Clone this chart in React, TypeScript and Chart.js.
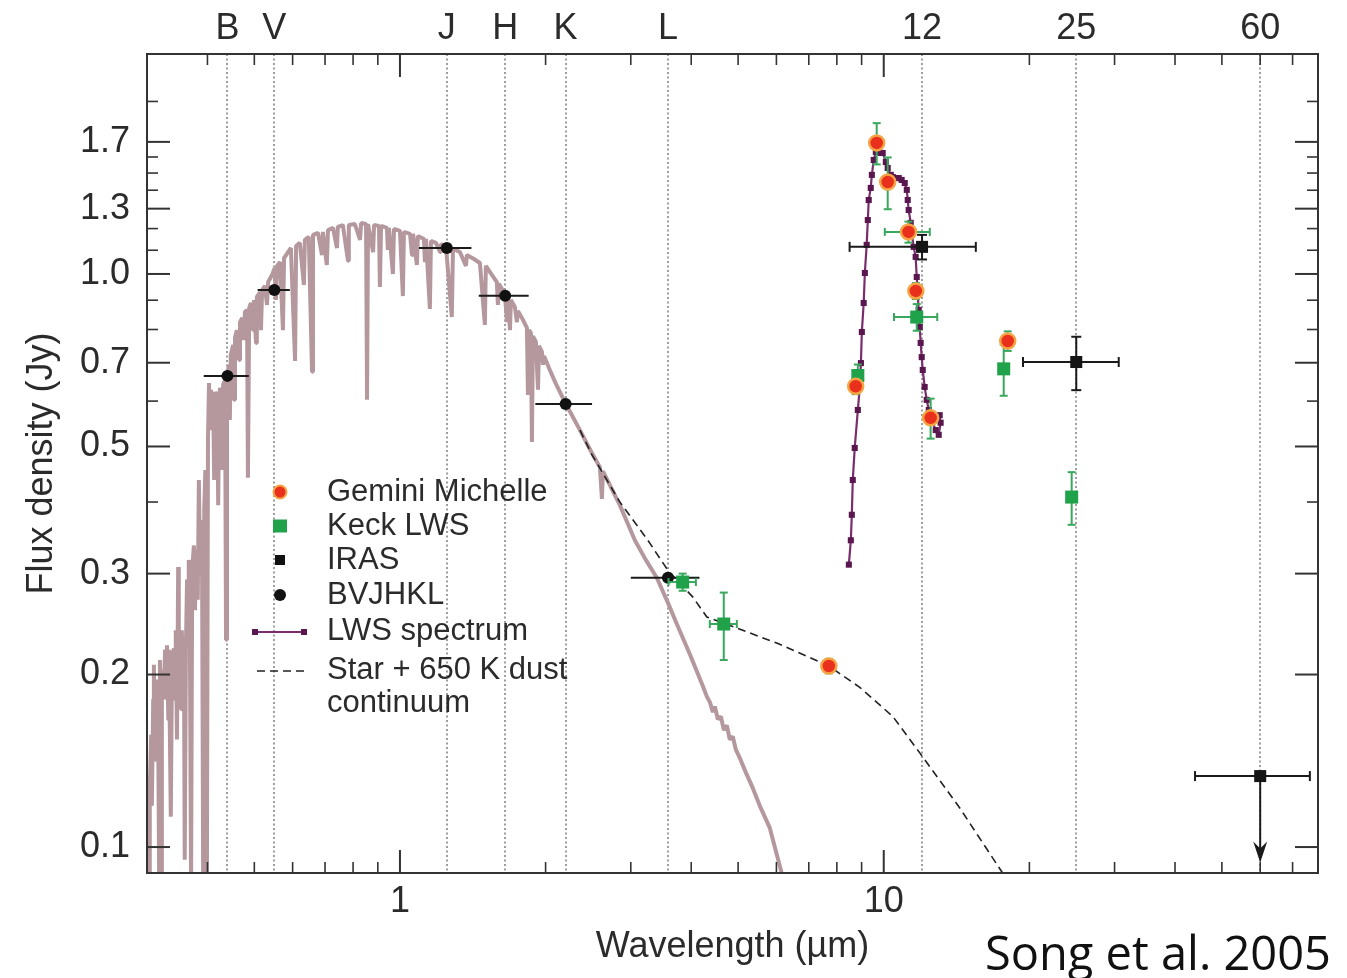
import React, { useEffect, useRef } from "react";
import { Chart, registerables } from "chart.js";

Chart.register(...registerables);

const FONT = "'Liberation Sans', Arial, Helvetica, sans-serif";
const INK = "#2b2b2b";

// Stellar photosphere model: wavelength (µm) and flux density (Jy)
const photWl = [
  0.300, 0.302, 0.303, 0.304, 0.306, 0.307, 0.309, 0.310, 0.312, 0.313,
  0.315, 0.316, 0.318, 0.319, 0.321, 0.322, 0.325, 0.327, 0.328, 0.330,
  0.332, 0.333, 0.336, 0.338, 0.341, 0.343, 0.344, 0.346, 0.348, 0.349,
  0.351, 0.353, 0.354, 0.358, 0.359, 0.361, 0.363, 0.365, 0.366, 0.368,
  0.370, 0.372, 0.375, 0.377, 0.379, 0.382, 0.384, 0.386, 0.388, 0.390,
  0.392, 0.394, 0.396, 0.397, 0.399, 0.401, 0.403, 0.405, 0.407, 0.409,
  0.411, 0.413, 0.415, 0.419, 0.421, 0.423, 0.425, 0.429, 0.431, 0.435,
  0.437, 0.439, 0.443, 0.445, 0.447, 0.452, 0.454, 0.456, 0.460, 0.465,
  0.467, 0.472, 0.476, 0.478, 0.483, 0.485, 0.488, 0.492, 0.497, 0.499,
  0.504, 0.506, 0.514, 0.516, 0.519, 0.526, 0.531, 0.534, 0.544, 0.551,
  0.554, 0.557, 0.565, 0.573, 0.576, 0.587, 0.595, 0.607, 0.610, 0.621,
  0.633, 0.636, 0.648, 0.658, 0.661, 0.677, 0.690, 0.693, 0.706, 0.710,
  0.727, 0.741, 0.744, 0.762, 0.781, 0.784, 0.807, 0.827, 0.831, 0.851,
  0.855, 0.859, 0.880, 0.884, 0.905, 0.909, 0.914, 0.940, 0.944, 0.949,
  0.967, 0.972, 1.000, 1.014, 1.019, 1.049, 1.059, 1.064, 1.084, 1.089,
  1.121, 1.126, 1.132, 1.153, 1.159, 1.187, 1.210, 1.215, 1.245, 1.280,
  1.287, 1.330, 1.369, 1.375, 1.422, 1.463, 1.498, 1.505, 1.549, 1.586,
  1.594, 1.601, 1.648, 1.664, 1.672, 1.688, 1.696, 1.728, 1.745, 1.753,
  1.787, 1.830, 1.839, 1.848, 1.865, 1.874, 1.883, 1.910, 1.929, 1.938,
  1.966, 1.975, 1.985, 2.041, 2.101, 2.203, 2.355, 2.493, 2.590, 2.615,
  2.627, 2.848, 3.059, 3.222, 3.396, 3.579, 3.735, 3.974, 4.227, 4.309,
  4.371, 4.434, 4.476, 4.540, 4.606, 4.672, 4.739, 4.806, 4.875, 4.945,
  5.041, 5.186, 5.335, 5.544, 5.814, 6.153, 6.453,
];
const photFlux = [
  0.088, 0.121, 0.084, 0.126, 0.157, 0.118, 0.181, 0.208, 0.142, 0.196,
  0.167, 0.188, 0.084, 0.212, 0.084, 0.204, 0.188, 0.221, 0.181, 0.225,
  0.167, 0.221, 0.113, 0.216, 0.222, 0.181, 0.239, 0.154, 0.308, 0.188,
  0.230, 0.174, 0.239, 0.181, 0.095, 0.221, 0.293, 0.249, 0.317, 0.230,
  0.084, 0.304, 0.336, 0.259, 0.330, 0.270, 0.437, 0.317, 0.372, 0.293,
  0.084, 0.388, 0.455, 0.317, 0.088, 0.513, 0.645, 0.556, 0.628, 0.534,
  0.615, 0.437, 0.623, 0.603, 0.395, 0.615, 0.633, 0.455, 0.641, 0.653,
  0.230, 0.659, 0.694, 0.556, 0.722, 0.752, 0.603, 0.773, 0.798, 0.708,
  0.824, 0.838, 0.767, 0.858, 0.865, 0.441, 0.873, 0.890, 0.798, 0.901,
  0.758, 0.912, 0.930, 0.798, 0.938, 0.953, 0.883, 0.968, 0.996, 1.024,
  0.901, 1.033, 1.049, 0.798, 1.066, 1.092, 1.110, 0.705, 1.119, 1.133,
  0.957, 1.147, 1.161, 0.675, 1.170, 1.179, 1.079, 1.184, 1.037, 1.193,
  1.203, 1.110, 1.208, 1.217, 1.054, 1.217, 1.222, 1.147, 1.227, 1.222,
  0.603, 1.222, 1.092, 1.217, 1.213, 0.949, 1.213, 1.203, 1.101, 1.203,
  1.000, 1.198, 1.189, 0.915, 1.184, 1.175, 1.079, 1.175, 1.037, 1.165,
  1.151, 1.049, 1.151, 0.869, 1.142, 1.133, 1.092, 1.128, 1.115, 0.841,
  1.106, 1.092, 1.033, 1.079, 1.062, 1.045, 0.815, 1.033, 0.996, 0.968,
  0.883, 0.961, 0.923, 0.824, 0.915, 0.798, 0.901, 0.876, 0.824, 0.862,
  0.838, 0.805, 0.615, 0.798, 0.789, 0.509, 0.779, 0.761, 0.628, 0.749,
  0.731, 0.694, 0.719, 0.680, 0.643, 0.593, 0.534, 0.487, 0.460, 0.405,
  0.453, 0.395, 0.343, 0.317, 0.295, 0.267, 0.245, 0.217, 0.191, 0.183,
  0.179, 0.172, 0.176, 0.167, 0.169, 0.160, 0.163, 0.154, 0.156, 0.148,
  0.143, 0.135, 0.128, 0.118, 0.108, 0.090, 0.081,
];

// Star + 650 K dust continuum
const dustWl = [2.355, 2.493, 2.848, 3.254, 3.579, 4.031, 4.309, 4.969, 6.009, 7.696, 8.921, 10.44, 11.87, 14.36, 17.62, 18.2];
const dustFlux = [0.534, 0.484, 0.4, 0.343, 0.304, 0.273, 0.252, 0.241, 0.227, 0.207, 0.19, 0.169, 0.146, 0.117, 0.09, 0.086];

// Keck LWS low-resolution spectrum
const lwsWl = [
  8.47, 8.55, 8.59, 8.63, 8.71, 8.84, 8.92, 8.97, 9.01, 9.09,
  9.14, 9.22, 9.27, 9.31, 9.40, 9.45, 9.535, 9.63, 9.72, 9.765,
  9.86, 9.95, 10.10, 10.19, 10.34, 10.44, 10.59, 10.74, 10.89, 11.05,
  11.16, 11.21, 11.26, 11.37, 11.42, 11.53, 11.64, 11.70, 11.75, 11.81,
  11.87, 11.92, 11.98, 12.04, 12.15, 12.27, 12.39, 12.56, 12.81, 12.99,
  13.11, 13.05,
];
const lwsFlux = [
  0.311, 0.343, 0.380, 0.437, 0.497, 0.579, 0.632, 0.699, 0.792, 0.890,
  1.004, 1.124, 1.242, 1.346, 1.413, 1.489, 1.581, 1.633, 1.666, 1.633,
  1.626, 1.626, 1.568, 1.531, 1.489, 1.476, 1.470, 1.470, 1.459, 1.441,
  1.402, 1.346, 1.293, 1.228, 1.179, 1.115, 1.071, 0.988, 0.927, 0.865,
  0.808, 0.758, 0.716, 0.680, 0.635, 0.603, 0.579, 0.556, 0.534, 0.524,
  0.550, 0.567,
];

// Gemini Michelle photometry
const gemWl = [7.70, 8.75, 9.67, 10.19, 11.25, 11.65, 12.50, 18.04];
const gemFlux = [0.207, 0.637, 1.693, 1.447, 1.184, 0.934, 0.561, 0.764];
const gemWlErr = [0.2, 0.15, 0.2, 0.25, 1.2, 0.25, 0.25, 0.5];
const gemFluxErr = [0.006, 0.02, 0.14, 0.15, 0.05, 0.03, 0.045, 0.03];

// Keck LWS photometry
const keckWl = [3.84, 4.67, 8.84, 11.70, 17.70, 24.46];
const keckFlux = [0.290, 0.245, 0.665, 0.841, 0.683, 0.408];
const keckWlErr = [0.25, 0.3, 0.2, 1.2, 0, 0];
const keckFluxErr = [0.01, 0.033, 0.03, 0.045, 0.07, 0.043];

// IRAS fluxes (60 µm is an upper limit)
const irasWl = [12, 25, 60];
const irasFlux = [1.115, 0.702, 0.133];
const irasWlErr = [3.5, 5.6, 16];
const irasFluxErr = [0.055, 0.075, 0];
const irasUpper = [false, false, true];
const irasLimitTip = 0.094;

// Optical / near-IR photometry
const bandWl = [0.44, 0.55, 1.25, 1.65, 2.2, 3.58];
const bandFlux = [0.664, 0.938, 1.110, 0.916, 0.593, 0.295];
const bandWlErr = [0.047, 0.042, 0.155, 0.195, 0.295, 0.58];

// Axis ticks
const topTickWl = [0.44, 0.55, 1.25, 1.65, 2.2, 3.58, 12, 25, 60];
const topTickText = ["B", "V", "J", "H", "K", "L", "12", "25", "60"];
const xTickVals = [1, 10];
const xTickText = ["1", "10"];
const xMinorVals = [0.4, 0.5, 0.6, 0.7, 0.8, 0.9, 2, 3, 4, 5, 6, 7, 8, 9, 20, 30, 40, 50, 60, 70];
const yTickVals = [0.1, 0.2, 0.3, 0.5, 0.7, 1.0, 1.3, 1.7];
const yTickText = ["0.1", "0.2", "0.3", "0.5", "0.7", "1.0", "1.3", "1.7"];
const yMinorVals = [0.4, 0.6, 0.8, 0.9, 1.1, 1.2, 1.4, 1.5, 1.6, 2.0];

const pts = (xs: number[], ys: number[]) => xs.map((v, i) => ({ x: v, y: ys[i] }));

const RED = "#e8301c";
const ORANGE = "#f6a443";
const GREEN = "#1fa24a";
const ERR_GREEN = "#3aa75e";
const PURPLE = "#7a2d6d";
const PURPLE_DOT = "#5a174f";
const MAUVE = "#b4989d";

function line(ctx: CanvasRenderingContext2D, x1: number, y1: number, x2: number, y2: number) {
  ctx.beginPath();
  ctx.moveTo(x1, y1);
  ctx.lineTo(x2, y2);
  ctx.stroke();
}

const errorBarPlugin = {
  id: "errorBars",
  beforeDatasetDraw(chart: any, args: any) {
    const ds = chart.data.datasets[args.index];
    const e = ds.errorBars;
    if (!e) return;
    const { ctx } = chart;
    const xs = chart.scales.x;
    const ys = chart.scales.y;
    ctx.save();
    ctx.strokeStyle = e.color;
    ctx.fillStyle = e.color;
    ctx.lineWidth = e.width;
    ctx.setLineDash([]);
    ds.data.forEach((p: any, i: number) => {
      const px = xs.getPixelForValue(p.x);
      const py = ys.getPixelForValue(p.y);
      const dx = e.xErr ? e.xErr[i] : 0;
      const dy = e.yErr ? e.yErr[i] : 0;
      if (dx) {
        const l = xs.getPixelForValue(p.x - dx);
        const r = xs.getPixelForValue(p.x + dx);
        line(ctx, l, py, r, py);
        if (e.cap) {
          line(ctx, l, py - e.cap, l, py + e.cap);
          line(ctx, r, py - e.cap, r, py + e.cap);
        }
      }
      if (dy) {
        const t = ys.getPixelForValue(p.y + dy);
        const b = ys.getPixelForValue(p.y - dy);
        line(ctx, px, t, px, b);
        if (e.cap) {
          line(ctx, px - e.cap, t, px + e.cap, t);
          line(ctx, px - e.cap, b, px + e.cap, b);
        }
      }
      if (e.upper && e.upper[i]) {
        const tip = ys.getPixelForValue(e.limitTip);
        line(ctx, px, py, px, tip - 10);
        ctx.beginPath();
        ctx.moveTo(px, tip);
        ctx.lineTo(px - 7, tip - 21);
        ctx.lineTo(px, tip - 14);
        ctx.lineTo(px + 7, tip - 21);
        ctx.closePath();
        ctx.fill();
      }
    });
    ctx.restore();
  },
};

const framePlugin = {
  id: "frameTicks",
  beforeDatasetsDraw(chart: any) {
    const { ctx, chartArea: a } = chart;
    const xs = chart.scales.x;
    ctx.save();
    ctx.strokeStyle = "#7d7d7d";
    ctx.lineWidth = 1.5;
    ctx.setLineDash([2, 2.5]);
    topTickWl.forEach((w) => {
      const px = Math.round(xs.getPixelForValue(w));
      line(ctx, px, a.top, px, a.bottom);
    });
    ctx.restore();
  },
  afterDatasetsDraw(chart: any) {
    const { ctx, chartArea: a } = chart;
    const xs = chart.scales.x;
    const ys = chart.scales.y;
    ctx.save();
    ctx.strokeStyle = "#333";
    ctx.setLineDash([]);
    const LONG = 23;
    const SHORT = 11;
    ctx.lineWidth = 2;
    xTickVals.forEach((v) => {
      const px = xs.getPixelForValue(v);
      line(ctx, px, a.bottom, px, a.bottom - LONG);
      line(ctx, px, a.top, px, a.top + LONG);
    });
    yTickVals.forEach((v) => {
      const py = ys.getPixelForValue(v);
      line(ctx, a.left, py, a.left + LONG, py);
      line(ctx, a.right, py, a.right - LONG, py);
    });
    ctx.lineWidth = 1.6;
    xMinorVals.forEach((v) => {
      const px = xs.getPixelForValue(v);
      line(ctx, px, a.bottom, px, a.bottom - SHORT);
      line(ctx, px, a.top, px, a.top + SHORT);
    });
    yMinorVals.forEach((v) => {
      const py = ys.getPixelForValue(v);
      line(ctx, a.left, py, a.left + SHORT, py);
      line(ctx, a.right, py, a.right - SHORT, py);
    });
    ctx.lineWidth = 2;
    ctx.strokeRect(a.left, a.top, a.right - a.left, a.bottom - a.top);
    ctx.restore();
  },
};

// Legend rows: dataset index and row centre
const legendRows = [
  { ds: 0, y: 492 },
  { ds: 1, y: 526 },
  { ds: 2, y: 560 },
  { ds: 3, y: 595 },
  { ds: 4, y: 631 },
  { ds: 5, y: 670 },
];

const legendPlugin = {
  id: "sedLegend",
  afterDraw(chart: any) {
    const { ctx } = chart;
    ctx.save();
    const mx = 280;
    const tx = 327;
    legendRows.forEach(({ ds: di, y }) => {
      const ds = chart.data.datasets[di];
      ctx.setLineDash([]);
      if (di === 0) {
        ctx.beginPath();
        ctx.arc(mx, y, 6.5, 0, Math.PI * 2);
        ctx.fillStyle = RED;
        ctx.fill();
        ctx.lineWidth = 2;
        ctx.strokeStyle = ORANGE;
        ctx.stroke();
      } else if (di === 1) {
        ctx.fillStyle = GREEN;
        ctx.fillRect(mx - 7, y - 6.5, 14, 13);
      } else if (di === 2) {
        ctx.fillStyle = "#111";
        ctx.fillRect(mx - 5, y - 5, 10, 10);
      } else if (di === 3) {
        ctx.beginPath();
        ctx.arc(mx, y, 6, 0, Math.PI * 2);
        ctx.fillStyle = "#111";
        ctx.fill();
      } else if (di === 4) {
        ctx.strokeStyle = PURPLE;
        ctx.lineWidth = 2;
        line(ctx, 255, y + 1, 304, y + 1);
        ctx.fillStyle = PURPLE_DOT;
        ctx.fillRect(252, y - 2, 6, 6);
        ctx.fillRect(301, y - 2, 6, 6);
      } else if (di === 5) {
        ctx.strokeStyle = "#222";
        ctx.lineWidth = 1.6;
        ctx.setLineDash([8, 5]);
        line(ctx, 257, y + 1, 305, y + 1);
        ctx.setLineDash([]);
      }
      ctx.fillStyle = INK;
      ctx.font = `31px ${FONT}`;
      ctx.textBaseline = "middle";
      ctx.textAlign = "left";
      String(ds.label)
        .split("\n")
        .forEach((t, k) => ctx.fillText(t, tx, y + k * 33));
    });

    ctx.fillStyle = "#111";
    ctx.font = `47px 'Open Sans', 'Noto Sans', sans-serif`;
    ctx.textBaseline = "alphabetic";
    ctx.textAlign = "left";
    ctx.fillText("Song et al. 2005", 985, 970);
    ctx.restore();
  },
};

const tickFont = { family: FONT, size: 36 };

export default function App() {
  const ref = useRef<HTMLCanvasElement>(null);

  useEffect(() => {
    const canvas = ref.current;
    if (!canvas) return;
    const chart = new Chart(canvas, {
      type: "scatter",
      data: {
        datasets: [
          {
            label: "Gemini Michelle",
            data: pts(gemWl, gemFlux),
            pointStyle: "circle",
            pointRadius: 7.5,
            pointBackgroundColor: RED,
            pointBorderColor: ORANGE,
            pointBorderWidth: 2.5,
            showLine: false,
            order: 1,
            errorBars: { xErr: gemWlErr, yErr: gemFluxErr, color: ERR_GREEN, width: 2, cap: 4 },
          } as any,
          {
            label: "Keck LWS",
            data: pts(keckWl, keckFlux),
            pointStyle: "rect",
            pointRadius: 9.2,
            pointBackgroundColor: GREEN,
            pointBorderColor: GREEN,
            pointBorderWidth: 0,
            showLine: false,
            order: 2,
            errorBars: { xErr: keckWlErr, yErr: keckFluxErr, color: ERR_GREEN, width: 2, cap: 4 },
          } as any,
          {
            label: "IRAS",
            data: pts(irasWl, irasFlux),
            pointStyle: "rect",
            pointRadius: 8.5,
            pointBackgroundColor: "#151515",
            pointBorderColor: "#151515",
            pointBorderWidth: 0,
            showLine: false,
            order: 3,
            errorBars: {
              xErr: irasWlErr,
              yErr: irasFluxErr,
              upper: irasUpper,
              limitTip: irasLimitTip,
              color: "#1a1a1a",
              width: 2,
              cap: 5,
            },
          } as any,
          {
            label: "BVJHKL",
            data: pts(bandWl, bandFlux),
            pointStyle: "circle",
            pointRadius: 6,
            pointBackgroundColor: "#111",
            pointBorderColor: "#111",
            pointBorderWidth: 0,
            showLine: false,
            order: 4,
            errorBars: { xErr: bandWlErr, color: "#1a1a1a", width: 2, cap: 0 },
          } as any,
          {
            label: "LWS spectrum",
            data: pts(lwsWl, lwsFlux),
            showLine: true,
            borderColor: PURPLE,
            borderWidth: 2.2,
            pointStyle: "rect",
            pointRadius: 4.3,
            pointBackgroundColor: PURPLE_DOT,
            pointBorderColor: PURPLE_DOT,
            pointBorderWidth: 0,
            order: 5,
          } as any,
          {
            label: "Star + 650 K dust\ncontinuum",
            data: pts(dustWl, dustFlux),
            showLine: true,
            borderColor: "#222",
            borderWidth: 1.6,
            borderDash: [8, 5],
            pointRadius: 0,
            order: 6,
          } as any,
          {
            label: "Photosphere",
            data: pts(photWl, photFlux),
            showLine: true,
            borderColor: MAUVE,
            borderWidth: 4,
            borderJoinStyle: "bevel",
            pointRadius: 0,
            order: 7,
          } as any,
        ],
      },
      options: {
        responsive: false,
        maintainAspectRatio: false,
        devicePixelRatio: 1,
        animation: false,
        events: [],
        layout: { padding: { left: 0, top: 0, bottom: 0, right: 29 } },
        plugins: { legend: { display: false }, tooltip: { enabled: false } },
        scales: {
          x: {
            type: "logarithmic",
            position: "bottom",
            min: 0.3,
            max: 79,
            afterBuildTicks: (s: any) => {
              s.ticks = xTickVals.map((v) => ({ value: v }));
            },
            afterFit: (s: any) => {
              s.height = 105;
            },
            grid: { display: false, drawTicks: false },
            border: { display: false },
            ticks: {
              callback: (_v: any, i: number) => xTickText[i],
              font: tickFont,
              color: INK,
              padding: 7,
              autoSkip: false,
              maxRotation: 0,
              minRotation: 0,
            },
            title: {
              display: true,
              text: "Wavelength (µm)",
              font: tickFont,
              color: INK,
              padding: { top: 0, bottom: 9 },
            },
          },
          x2: {
            type: "logarithmic",
            position: "top",
            min: 0.3,
            max: 79,
            afterBuildTicks: (s: any) => {
              s.ticks = topTickWl.map((v) => ({ value: v }));
            },
            afterFit: (s: any) => {
              s.height = 54;
            },
            grid: { display: false, drawTicks: false },
            border: { display: false },
            ticks: {
              callback: (_v: any, i: number) => topTickText[i],
              font: tickFont,
              color: INK,
              padding: 3,
              autoSkip: false,
              maxRotation: 0,
              minRotation: 0,
            },
          },
          y: {
            type: "logarithmic",
            position: "left",
            min: 0.0901,
            max: 2.42,
            afterBuildTicks: (s: any) => {
              s.ticks = yTickVals.map((v) => ({ value: v }));
            },
            afterFit: (s: any) => {
              s.width = 147;
            },
            grid: { display: false, drawTicks: false },
            border: { display: false },
            ticks: {
              callback: (_v: any, i: number) => yTickText[i],
              font: tickFont,
              color: INK,
              padding: 17,
              autoSkip: false,
            },
            title: {
              display: true,
              text: "Flux density (Jy)",
              font: tickFont,
              color: INK,
              padding: { top: 20, bottom: 0 },
            },
          },
        },
      } as any,
      plugins: [framePlugin, errorBarPlugin, legendPlugin],
    });
    return () => chart.destroy();
  }, []);

  return (
    <div style={{ position: "absolute", left: 0, top: 0, width: 1347, height: 978, background: "#fff" }}>
      <canvas ref={ref} width={1347} height={978} style={{ display: "block", width: 1347, height: 978 }} />
    </div>
  );
}
